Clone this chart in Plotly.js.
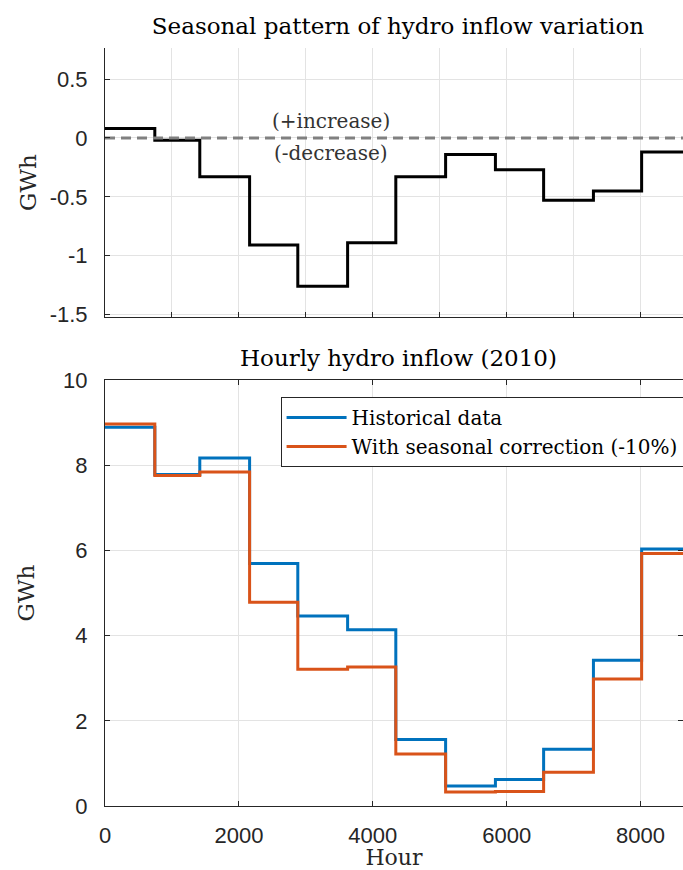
<!DOCTYPE html>
<html>
<head>
<meta charset="utf-8">
<script src="https://cdn.plot.ly/plotly-3.0.1.min.js"></script>
<style>html,body{margin:0;padding:0;background:#fff;overflow:hidden;}#chart{width:683px;height:870px;}</style>
</head>
<body>
<div id="chart"></div>
<script>
// Month boundaries (hours of the year 2010)
const hourEdges = [0, 744, 1416, 2160, 2880, 3624, 4344, 5088, 5832, 6552, 7296, 8016, 8760];
// Seasonal variation per month (GWh)
const variation = [0.08, -0.02, -0.33, -0.91, -1.26, -0.89, -0.33, -0.14, -0.27, -0.53, -0.45, -0.12];
// Hourly hydro inflow per month (GWh)
const historical = [8.89, 7.78, 8.17, 5.69, 4.46, 4.14, 1.56, 0.47, 0.62, 1.33, 3.42, 6.03];
const corrected  = [8.97, 7.76, 7.84, 4.78, 3.21, 3.26, 1.22, 0.33, 0.34, 0.79, 2.98, 5.93];
const zeroLineX = [0, 8760];
const zeroLineY = [0, 0];
const topTicks = [0, 1000, 2000, 3000, 4000, 5000, 6000, 7000, 8000];
const bottomTicks = [0, 2000, 4000, 6000, 8000];
const topYTicks = [-1.5, -1, -0.5, 0, 0.5];
const topYLabels = ['-1.5', '-1', '-0.5', '0', '0.5'];
const bottomYTicks = [0, 2, 4, 6, 8, 10];

function stepY(vals) { return vals.concat([vals[vals.length - 1]]); }

const BLUE = '#0072BD', ORANGE = '#D95319';
const AX = '#262626', GRID = '#e3e3e3';
const SANS = 'Liberation Sans, Arial, sans-serif';
const SERIF = 'DejaVu Serif, serif';

const traces = [
  {x: hourEdges, y: stepY(variation), type: 'scatter', mode: 'lines', line: {shape: 'hv', color: '#000', width: 3},
   xaxis: 'x', yaxis: 'y', showlegend: false, hoverinfo: 'skip'},
  {x: zeroLineX, y: zeroLineY, type: 'scatter', mode: 'lines', line: {color: '#808080', width: 3, dash: '10px,6px'},
   xaxis: 'x', yaxis: 'y', showlegend: false, hoverinfo: 'skip'},
  {x: hourEdges, y: stepY(historical), type: 'scatter', mode: 'lines', name: 'Historical data',
   line: {shape: 'hv', color: BLUE, width: 3}, xaxis: 'x2', yaxis: 'y2'},
  {x: hourEdges, y: stepY(corrected), type: 'scatter', mode: 'lines', name: 'With seasonal correction (-10%)',
   line: {shape: 'hv', color: ORANGE, width: 3}, xaxis: 'x2', yaxis: 'y2'}
];

const xRange = [0, 8634];
const commonAxis = {
  showline: true, linecolor: AX, linewidth: 1, ticks: 'inside', ticklen: 5, tickcolor: AX,
  gridcolor: GRID, gridwidth: 1, zeroline: false, tickfont: {family: SANS, size: 22, color: AX}
};

const layout = {
  width: 683, height: 870,
  paper_bgcolor: '#fff', plot_bgcolor: '#fff',
  margin: {l: 105, r: 0, t: 48, b: 64, autoexpand: false},
  showlegend: true,
  title: {text: 'Seasonal pattern of hydro inflow variation', xref: 'container', yref: 'container',
          x: 0.5827, xanchor: 'center', y: 0.970, yanchor: 'middle', font: {family: SERIF, size: 23, color: '#000'}},
  xaxis: Object.assign({}, commonAxis, {domain: [0, 1], anchor: 'y', range: xRange, tickvals: topTicks, showticklabels: false}),
  yaxis: Object.assign({}, commonAxis, {domain: [0.6451, 1], anchor: 'x', range: [-1.522, 0.765],
          tickvals: topYTicks, ticktext: topYLabels, ticklabelstandoff: 12,
          title: {text: 'GWh', font: {family: SERIF, size: 23, color: AX}, standoff: 6}}),
  xaxis2: Object.assign({}, commonAxis, {domain: [0, 1], anchor: 'y2', range: xRange, tickvals: bottomTicks,
          mirror: 'ticks', ticklabelstandoff: 10,
          title: {text: 'Hour', font: {family: SERIF, size: 22, color: AX}, standoff: 12}}),
  yaxis2: Object.assign({}, commonAxis, {domain: [0, 0.562], anchor: 'x2', range: [0, 10], tickvals: bottomYTicks,
          mirror: 'ticks', ticklabelstandoff: 12,
          title: {text: 'GWh', font: {family: SERIF, size: 23, color: AX}, standoff: 22}}),
  legend: {x: 1.001, xanchor: 'right', y: 0.5396, yanchor: 'top', bgcolor: '#fff', bordercolor: AX, borderwidth: 1,
           font: {family: SERIF, size: 20, color: '#000'}, tracegroupgap: 0, itemwidth: 60},
  annotations: [
    {text: 'Hourly hydro inflow (2010)', xref: 'paper', yref: 'paper', x: 0.507, y: 0.591, xanchor: 'center', yanchor: 'middle',
     showarrow: false, font: {family: SERIF, size: 23, color: '#000'}},
    {text: '(+increase)', xref: 'x', yref: 'y', x: 3373, y: 0.145, xanchor: 'center', yanchor: 'middle',
     showarrow: false, font: {family: SERIF, size: 20, color: '#333'}},
    {text: '(-decrease)', xref: 'x', yref: 'y', x: 3373, y: -0.13, xanchor: 'center', yanchor: 'middle',
     showarrow: false, font: {family: SERIF, size: 20, color: '#333'}}
  ]
};

Plotly.newPlot('chart', traces, layout, {displayModeBar: false, staticPlot: true});
</script>
</body>
</html>
